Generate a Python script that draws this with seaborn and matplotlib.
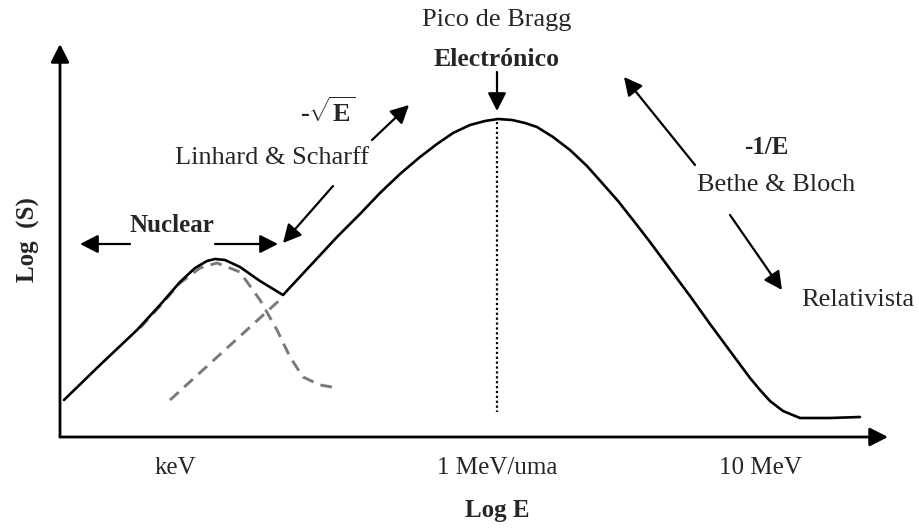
import matplotlib
matplotlib.use("Agg")
import matplotlib.pyplot as plt
import seaborn as sns
import pandas as pd

curva_x = [64, 100, 137, 160, 180, 195, 207, 215, 225, 240, 260, 283, 310, 337, 360, 380,
           400, 420, 437, 453, 470, 485, 498, 512, 525, 537, 553, 570, 587, 603, 618, 633,
           650, 670, 690, 710, 730, 750, 760, 770, 783, 800, 830, 860]
curva_y = [400, 365, 330, 305, 282, 268, 261, 259, 260, 267, 281, 295, 266, 237, 214, 193,
           174, 157, 144, 133, 125, 121, 119, 120, 123, 127, 137, 150, 166, 184, 201, 220,
           242, 269, 296, 324, 351, 378, 390, 401, 411, 418, 418, 417]

nuclear_x = [140, 160, 180, 200, 217, 240, 260, 277, 290, 303, 320, 338]
nuclear_y = [328, 306, 283, 268, 263, 272, 300, 330, 357, 377, 385, 388]

electronico_x = [170, 283]
electronico_y = [400, 297]

bragg_x = [497, 497]
bragg_y = [122, 412]

# flechas: (x_cola, y_cola, x_punta, y_punta)
flechas = [
    (130, 244, 80, 244),
    (215, 244, 278, 244),
    (333, 186, 283, 243),
    (372, 140, 409, 105),
    (497, 72, 497, 111),
    (695, 165, 624, 77),
    (730, 215, 782, 290),
]
ejes = [
    (60, 437, 60, 44),
    (60, 437, 888, 437),
]

etiquetas_x = ["keV", "1 MeV/uma", "10 MeV"]
etiquetas_x_pos = [175, 497, 760]

sns.set_theme(style="white")
plt.rcParams['font.family'] = ['Liberation Serif', 'DejaVu Serif']
plt.rcParams['mathtext.fontset'] = 'custom'
plt.rcParams['mathtext.rm'] = 'Liberation Serif'
plt.rcParams['mathtext.bf'] = 'Liberation Serif:bold'

fig = plt.figure(figsize=(9.2, 5.29), dpi=100)
ax = fig.add_axes([0, 0, 1, 1])

df_curva = pd.DataFrame({"x": curva_x, "y": curva_y})
df_nuc = pd.DataFrame({"x": nuclear_x, "y": nuclear_y})
df_ele = pd.DataFrame({"x": electronico_x, "y": electronico_y})

sns.lineplot(data=df_nuc, x="x", y="y", sort=False, ax=ax, color="#7a7a7a",
             lw=2.1, linestyle=(0, (4, 2.6)))
sns.lineplot(data=df_ele, x="x", y="y", sort=False, ax=ax, color="#7a7a7a",
             lw=2.1, linestyle=(0, (4, 2.6)))
sns.lineplot(data=df_curva, x="x", y="y", sort=False, ax=ax, color="black", lw=1.9)
ax.plot(bragg_x, bragg_y, color="black", lw=1.6, linestyle=(0, (1, 1.2)))

ax.set_xlim(0, 920)
ax.set_ylim(529, 0)
ax.axis("off")

estilo = dict(arrowstyle="-|>,head_length=0.55,head_width=0.28", color="black",
              lw=1.6, shrinkA=0, shrinkB=0, mutation_scale=20)
for x0, y0, x1, y1 in flechas:
    ax.annotate("", xy=(x1, y1), xytext=(x0, y0), arrowprops=estilo)
estilo_eje = dict(estilo, lw=2.0)
for x0, y0, x1, y1 in ejes:
    ax.annotate("", xy=(x1, y1), xytext=(x0, y0), arrowprops=estilo_eje)

fs = 19
ax.text(497, 20, "Pico de Bragg", ha="center", va="center", fontsize=fs)
ax.text(497, 60, "Electrónico", ha="center", va="center", fontsize=fs - 0.5, fontweight="bold")
ax.text(328, 112, r"-$\sqrt{\mathbf{E}}$", ha="center", va="center", fontsize=fs,
        fontweight="bold")
ax.text(272, 158, "Linhard & Scharff", ha="center", va="center", fontsize=fs)
ax.text(172, 226, "Nuclear", ha="center", va="center", fontsize=fs - 1, fontweight="bold")
ax.text(766, 148, "-1/E", ha="center", va="center", fontsize=fs - 1, fontweight="bold")
ax.text(776, 185, "Bethe & Bloch", ha="center", va="center", fontsize=fs)
ax.text(858, 300, "Relativista", ha="center", va="center", fontsize=fs)
for lab, xp in zip(etiquetas_x, etiquetas_x_pos):
    ax.text(xp, 468, lab, ha="center", va="center", fontsize=fs - 1)
ax.text(497, 510, "Log E", ha="center", va="center", fontsize=fs - 1, fontweight="bold")
ax.text(28, 240, "Log  (S)", ha="center", va="center", fontsize=fs - 1,
        fontweight="bold", rotation=90)

fig.savefig("out.png", dpi=100)
